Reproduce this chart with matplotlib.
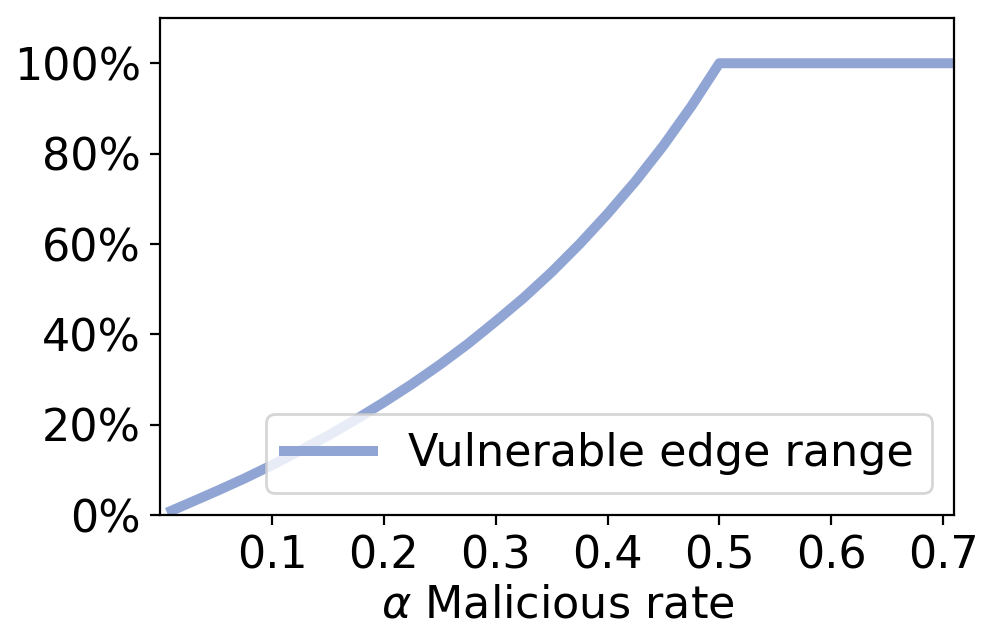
import matplotlib
matplotlib.use("Agg")
import matplotlib.pyplot as plt
from matplotlib.ticker import PercentFormatter

# values
alpha = [0.01, 0.025, 0.05, 0.075, 0.1, 0.125, 0.15, 0.175, 0.2, 0.225, 0.25,
         0.275, 0.3, 0.325, 0.35, 0.375, 0.4, 0.425, 0.45, 0.475, 0.5,
         0.55, 0.6, 0.65, 0.71]
vulnerable = [0.010, 0.026, 0.053, 0.081, 0.111, 0.143, 0.176, 0.212, 0.250, 0.290,
              0.333, 0.379, 0.429, 0.481, 0.538, 0.600, 0.667, 0.739, 0.818, 0.905,
              1.0, 1.0, 1.0, 1.0, 1.0]
xticks = [0.1, 0.2, 0.3, 0.4, 0.5, 0.6, 0.7]
yticks = [0, 0.2, 0.4, 0.6, 0.8, 1.0]

plt.rcParams['font.size'] = 16

fig, ax = plt.subplots(figsize=(4.98, 3.22), dpi=200)
ax.plot(alpha, vulnerable, color='#91A5D4', linewidth=3.6,
        label='Vulnerable edge range')

ax.set_xlim(0, 0.71)
ax.set_ylim(0, 1.1)
ax.set_xticks(xticks)
ax.set_yticks(yticks)
ax.yaxis.set_major_formatter(PercentFormatter(1.0, decimals=0))
ax.set_xlabel(r'$\alpha$ Malicious rate', labelpad=2)
ax.legend(loc='lower right')

fig.subplots_adjust(left=0.161, right=0.958, top=0.972, bottom=0.2)
fig.savefig('out.png')
